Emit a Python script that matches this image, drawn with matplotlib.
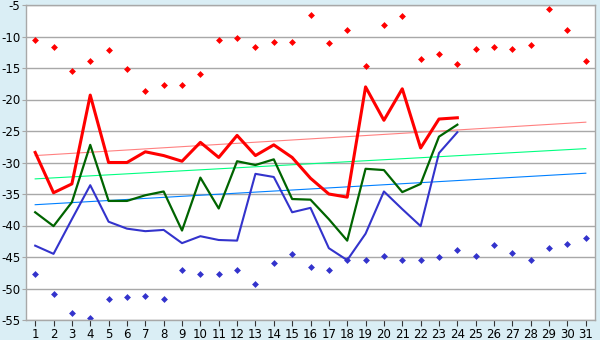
import numpy as np
import matplotlib
matplotlib.use("Agg")
import matplotlib.pyplot as plt

plt.rcParams["axes.unicode_minus"] = False
plt.rcParams["font.family"] = ["DejaVu Sans"]

# days of the month
days = list(range(1, 32))
line_days = list(range(1, 25))

# daily max (red diamonds) and daily min (blue diamonds)
max_vals = [-10.6, -11.6, -15.5, -13.9, -12.2, -15.2, -18.7, -17.7, -17.7, -16.0,
            -10.6, -10.3, -11.6, -10.9, -10.9, -6.6, -11.1, -8.9, -14.7, -8.2,
            -6.8, -13.5, -12.8, -14.4, -12.0, -11.7, -12.0, -11.4, -5.7, -9.0, -13.9]
min_vals = [-47.7, -50.9, -53.9, -54.7, -51.7, -51.4, -51.2, -51.7, -47.1, -47.7,
            -47.7, -47.1, -49.3, -46.0, -44.6, -46.6, -47.1, -45.5, -45.5, -44.9,
            -45.5, -45.5, -45.0, -43.9, -44.9, -43.1, -44.4, -45.5, -43.5, -42.9, -42.0]

# daily lines
red_line = [-28.4, -34.8, -33.4, -19.3, -30.0, -30.0, -28.3, -28.9, -29.8, -26.8,
            -29.2, -25.7, -28.9, -27.2, -29.2, -32.5, -35.0, -35.5, -18.0, -23.3,
            -18.3, -27.7, -23.1, -22.9]
green_line = [-37.9, -40.1, -36.3, -27.2, -36.1, -36.1, -35.2, -34.6, -40.8, -32.4,
              -37.3, -29.8, -30.4, -29.5, -35.8, -35.9, -39.0, -42.4, -31.0, -31.2,
              -34.7, -33.4, -25.9, -24.0]
blue_line = [-43.2, -44.5, -39.0, -33.6, -39.4, -40.5, -40.9, -40.7, -42.8, -41.7,
             -42.3, -42.4, -31.8, -32.3, -37.9, -37.2, -43.6, -45.5, -41.3, -34.6,
             -37.4, -40.1, -28.5, -25.2]

# trend lines (start / end on day 1 and day 31)
trend_days = [1, 31]
red_trend = [-28.9, -23.6]
green_trend = [-32.6, -27.8]
blue_trend = [-36.7, -31.7]

bg = "#daeef5"
grid_col = "#a8a8a8"

fig = plt.figure(figsize=(6, 3.4), dpi=100, facecolor=bg)
ax = fig.add_axes([26 / 600, 20 / 340, 569 / 600, 315 / 340])
ax.set_facecolor("white")

ax.plot(trend_days, red_trend, color="#ff8080", lw=0.8)
ax.plot(trend_days, green_trend, color="#00ff80", lw=0.8)
ax.plot(trend_days, blue_trend, color="#0080ff", lw=0.8)

ax.plot(line_days, blue_line, color="#3333cc", lw=1.5)
ax.plot(line_days, green_line, color="#006400", lw=1.6)
ax.plot(line_days, red_line, color="#ff0000", lw=2.2)

ax.plot(days, max_vals, ls="none", marker="D", ms=3.5, color="#ff0000", mew=0)
ax.plot(days, min_vals, ls="none", marker="D", ms=3.5, color="#3333cc", mew=0)

ax.set_xlim(0.5, 31.5)
ax.set_ylim(-55, -5)
ax.set_xticks(days)
ax.set_yticks(np.arange(-55, -4, 5))
ax.yaxis.grid(True, color=grid_col, lw=1)
ax.set_axisbelow(True)

for s in ax.spines.values():
    s.set_color(grid_col)
    s.set_linewidth(1)

ax.tick_params(axis="x", length=4, color="#333333", labelsize=8.5, pad=2)
ax.tick_params(axis="y", length=3, color=grid_col, labelsize=8.5, pad=1)

fig.savefig("out.png", dpi=100, facecolor=bg)
